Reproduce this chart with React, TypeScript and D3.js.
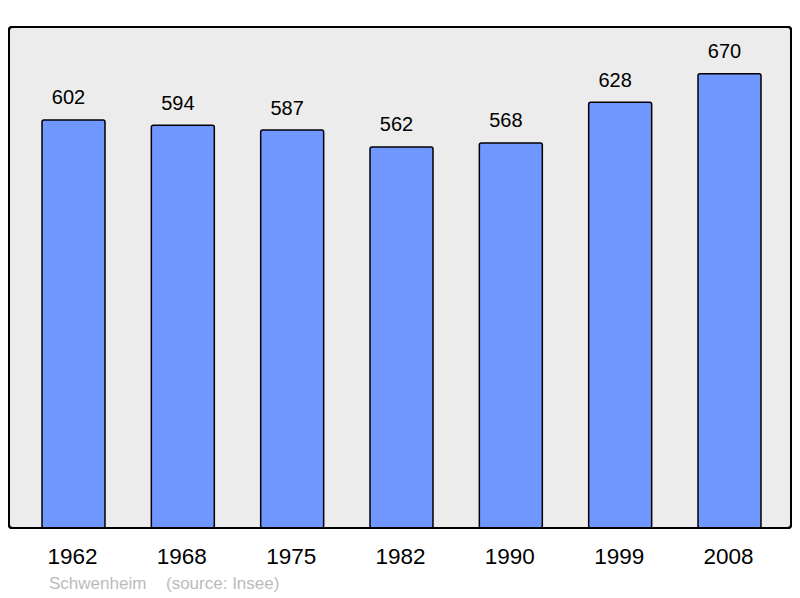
import React from "react";
import * as d3 from "d3";

const years = ["1962", "1968", "1975", "1982", "1990", "1999", "2008"];
const populations = [602, 594, 587, 562, 568, 628, 670];
const footerName = "Schwenheim";
const footerSource = "(source: Insee)";

export default function App() {
  const W = 800, H = 598;
  const panel = { x: 9, y: 27, w: 782, h: 501 };
  const x = d3.scaleBand<string>().domain(years).range([18.83, 784.17]).paddingInner(0.424).paddingOuter(0.212);
  const y = d3.scaleLinear().domain([0, 739]).range([528, 27]);
  const font = "'Liberation Sans', Arial, sans-serif";
  return (
    <svg width={W} height={H} style={{ position: "absolute", left: 0, top: 0 }}>
      <rect x={panel.x} y={panel.y} width={panel.w} height={panel.h} rx={3} fill="#ececec" stroke="#000" strokeWidth={2} />
      {years.map((yr, i) => {
        const v = populations[i];
        const bx = x(yr)!;
        const bw = x.bandwidth();
        return (
          <g key={yr}>
            <rect x={bx} y={y(v)} width={bw} height={y(0) - y(v)} rx={2} fill="#7096ff" stroke="#000" strokeWidth={1.5} />
            <text x={bx + bw / 2 - 5} y={y(v) - 15.5} textAnchor="middle" fontFamily={font} fontSize={20} fill="#000">{v}</text>
            <text x={bx + bw / 2 - 1} y={564} textAnchor="middle" fontFamily={font} fontSize={22.5} fill="#000">{yr}</text>
          </g>
        );
      })}
      <rect x={panel.x} y={panel.y} width={panel.w} height={panel.h} rx={3} fill="none" stroke="#000" strokeWidth={2} />
      <text x={49} y={589} fontFamily={font} fontSize={17} fill="#bbbbbb">{footerName}</text>
      <text x={166} y={589} fontFamily={font} fontSize={17} fill="#bbbbbb">{footerSource}</text>
    </svg>
  );
}
